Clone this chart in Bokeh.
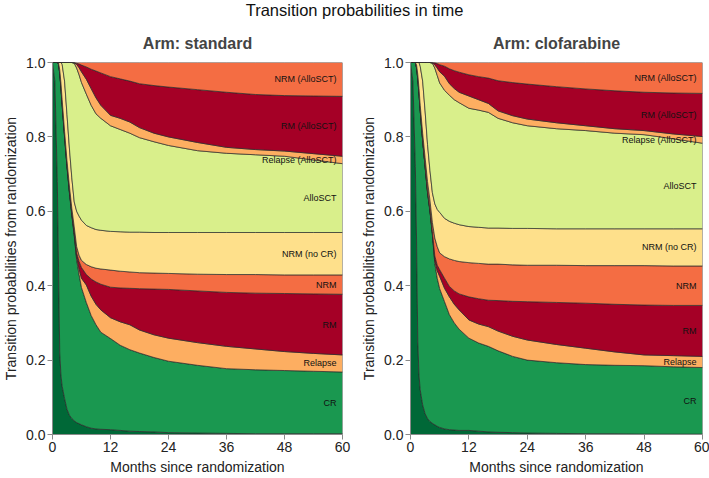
from bokeh.core.properties import value
from bokeh.embed import file_html
from bokeh.layouts import column, row
from bokeh.models import ColumnDataSource, Div, FixedTicker, PrintfTickFormatter, Range1d
from bokeh.plotting import figure
from bokeh.resources import INLINE

# time grid (months since randomization)
months = [0, 0.5, 1, 1.25, 1.5, 1.75, 2, 2.5, 3, 3.5, 4, 4.5, 5, 5.5, 6, 7, 8, 9, 10,
          12, 14, 16, 18, 21, 24, 30, 36, 42, 48, 54, 60]

states = ["Initial", "CR", "Relapse", "RM", "NRM", "NRM (no CR)", "AlloSCT",
          "Relapse (AlloSCT)", "RM (AlloSCT)", "NRM (AlloSCT)"]
colors = ["#006837", "#1A9850", "#FDAE61", "#A50026", "#F46D43", "#FEE08B", "#D9EF8B",
          "#FDAE61", "#A50026", "#F46D43"]

# stacked (cumulative) probability at the top of each state, arm: standard
std_initial = [1.0, 0.95, 0.68, 0.45, 0.22, 0.16, 0.13, 0.097, 0.068, 0.052, 0.043, 0.037, 0.032, 0.029, 0.026,
               0.021, 0.017, 0.015, 0.014, 0.013, 0.011, 0.009, 0.008, 0.007, 0.005, 0.004, 0.003, 0.002, 0.002, 0.002, 0.002]
std_cr = [1.0, 1.0, 1.0, 0.995, 0.97, 0.93, 0.885, 0.8, 0.72, 0.65, 0.59, 0.535, 0.47, 0.43, 0.395,
          0.355, 0.32, 0.295, 0.275, 0.258, 0.24, 0.228, 0.219, 0.207, 0.197, 0.186, 0.177, 0.174, 0.172, 0.17, 0.168]
std_relapse = [1.0, 1.0, 1.0, 0.996, 0.972, 0.933, 0.888, 0.803, 0.723, 0.654, 0.594, 0.54, 0.478, 0.445, 0.42,
               0.402, 0.372, 0.35, 0.335, 0.314, 0.303, 0.295, 0.281, 0.268, 0.259, 0.247, 0.237, 0.23, 0.223, 0.218, 0.214]
std_rm = [1.0, 1.0, 1.0, 0.997, 0.974, 0.936, 0.891, 0.806, 0.726, 0.657, 0.597, 0.545, 0.488, 0.465, 0.449,
          0.43, 0.418, 0.41, 0.404, 0.396, 0.394, 0.393, 0.392, 0.391, 0.39, 0.386, 0.382, 0.38, 0.379, 0.378, 0.377]
std_nrm = [1.0, 1.0, 1.0, 0.999, 0.98, 0.945, 0.9, 0.815, 0.736, 0.668, 0.608, 0.558, 0.505, 0.482, 0.468,
           0.457, 0.451, 0.447, 0.445, 0.442, 0.439, 0.437, 0.435, 0.434, 0.433, 0.431, 0.43, 0.43, 0.429, 0.429, 0.429]
std_nrm_nocr = [1.0, 1.0, 1.0, 1.0, 1.0, 1.0, 0.995, 0.95, 0.86, 0.77, 0.69, 0.625, 0.6, 0.587, 0.576,
                0.562, 0.556, 0.551, 0.549, 0.546, 0.545, 0.544, 0.544, 0.543, 0.543, 0.543, 0.543, 0.543, 0.543, 0.543, 0.543]
std_allo = [1.0, 1.0, 1.0, 1.0, 1.0, 1.0, 1.0, 1.0, 1.0, 1.0, 1.0, 0.998, 0.985, 0.967, 0.946,
            0.915, 0.885, 0.862, 0.85, 0.83, 0.82, 0.81, 0.798, 0.787, 0.777, 0.763, 0.756, 0.752, 0.748, 0.738, 0.728]
std_relapse_allo = [1.0, 1.0, 1.0, 1.0, 1.0, 1.0, 1.0, 1.0, 1.0, 1.0, 1.0, 0.999, 0.995, 0.986, 0.975,
                    0.955, 0.93, 0.905, 0.885, 0.858, 0.85, 0.84, 0.825, 0.81, 0.8, 0.785, 0.772, 0.766, 0.762, 0.755, 0.748]
std_rm_allo = [1.0, 1.0, 1.0, 1.0, 1.0, 1.0, 1.0, 1.0, 1.0, 1.0, 1.0, 1.0, 0.998, 0.996, 0.993,
               0.988, 0.982, 0.977, 0.972, 0.962, 0.956, 0.95, 0.943, 0.938, 0.934, 0.927, 0.92, 0.914, 0.911, 0.91, 0.909]

# arm: clofarabine
clo_initial = [1.0, 0.95, 0.72, 0.52, 0.25, 0.16, 0.12, 0.08, 0.056, 0.043, 0.035, 0.03, 0.026, 0.022, 0.019,
               0.015, 0.013, 0.012, 0.011, 0.011, 0.009, 0.007, 0.006, 0.005, 0.004, 0.003, 0.002, 0.002, 0.001, 0.001, 0.001]
clo_cr = [1.0, 1.0, 1.0, 0.985, 0.955, 0.915, 0.87, 0.79, 0.72, 0.65, 0.6, 0.538, 0.46, 0.42, 0.392,
          0.357, 0.322, 0.3, 0.283, 0.259, 0.246, 0.237, 0.225, 0.21, 0.2, 0.193, 0.188, 0.186, 0.185, 0.182, 0.18]
clo_relapse = [1.0, 1.0, 1.0, 0.986, 0.957, 0.917, 0.872, 0.792, 0.722, 0.653, 0.603, 0.542, 0.468, 0.44, 0.425,
               0.393, 0.37, 0.35, 0.335, 0.308, 0.297, 0.29, 0.278, 0.264, 0.254, 0.242, 0.232, 0.222, 0.214, 0.212, 0.21]
clo_rm = [1.0, 1.0, 1.0, 0.987, 0.958, 0.918, 0.873, 0.793, 0.723, 0.655, 0.605, 0.545, 0.48, 0.455, 0.443,
          0.42, 0.398, 0.386, 0.378, 0.37, 0.365, 0.361, 0.36, 0.358, 0.357, 0.355, 0.353, 0.35, 0.348, 0.347, 0.347]
clo_nrm = [1.0, 1.0, 1.0, 0.993, 0.968, 0.93, 0.885, 0.81, 0.745, 0.68, 0.63, 0.57, 0.528, 0.505, 0.488,
           0.478, 0.472, 0.468, 0.465, 0.462, 0.46, 0.458, 0.458, 0.456, 0.455, 0.455, 0.454, 0.454, 0.454, 0.453, 0.453]
clo_nrm_nocr = [1.0, 1.0, 1.0, 1.0, 1.0, 1.0, 0.99, 0.95, 0.87, 0.78, 0.71, 0.65, 0.62, 0.605, 0.597,
                0.581, 0.573, 0.568, 0.564, 0.559, 0.557, 0.555, 0.555, 0.554, 0.554, 0.553, 0.553, 0.553, 0.553, 0.553, 0.553]
clo_allo = [1.0, 1.0, 1.0, 1.0, 1.0, 1.0, 1.0, 1.0, 1.0, 1.0, 1.0, 0.998, 0.985, 0.965, 0.945,
            0.925, 0.912, 0.9, 0.892, 0.877, 0.872, 0.866, 0.85, 0.838, 0.83, 0.822, 0.817, 0.81, 0.806, 0.795, 0.783]
clo_relapse_allo = [1.0, 1.0, 1.0, 1.0, 1.0, 1.0, 1.0, 1.0, 1.0, 1.0, 1.0, 0.999, 0.994, 0.985, 0.975,
                    0.963, 0.943, 0.93, 0.92, 0.91, 0.9, 0.89, 0.87, 0.857, 0.848, 0.838, 0.83, 0.822, 0.817, 0.808, 0.801]
clo_rm_allo = [1.0, 1.0, 1.0, 1.0, 1.0, 1.0, 1.0, 1.0, 1.0, 1.0, 1.0, 1.0, 0.999, 0.997, 0.994,
               0.99, 0.983, 0.978, 0.974, 0.967, 0.962, 0.958, 0.951, 0.946, 0.942, 0.935, 0.929, 0.924, 0.92, 0.918, 0.917]

FONT = "Liberation Sans"


def stacked_panel(arm, tops, width, border_left, border_right):
    p = figure(width=width, height=457, output_backend="svg", toolbar_location=None,
               x_range=Range1d(0, 60), y_range=Range1d(0, 1),
               min_border_left=border_left, min_border_right=border_right,
               min_border_top=42, min_border_bottom=42,
               x_axis_label="Months since randomization",
               y_axis_label="Transition probabilities from randomization")

    # one polygon per state, between the previous stacked edge and its own
    tops = tops + [[1.0 for _ in months]]
    xs, ys, label_y, label_txt = [], [], [], []
    lower = [0.0 for _ in months]
    for name, top in zip(states, tops):
        xs.append(months + months[::-1])
        ys.append(list(top) + lower[::-1])
        if top[-1] - lower[-1] > 0.01:
            label_y.append((top[-1] + lower[-1]) / 2)
            label_txt.append(name)
        lower = list(top)
    src = ColumnDataSource(dict(xs=xs, ys=ys, color=colors))
    p.patches("xs", "ys", source=src, fill_color="color", line_color="#2b2b2b", line_width=0.7)

    lab = ColumnDataSource(dict(x=[60] * len(label_y), y=label_y, text=label_txt))
    p.text("x", "y", text="text", source=lab, x_offset=-6, text_align="right",
           text_baseline="middle", text_font=value(FONT), text_font_size="9px", text_color="#111111")

    p.title.text = "Arm: " + arm
    p.title.align = "center"
    p.title.text_font = FONT
    p.title.text_font_size = "16px"
    p.title.text_font_style = "bold"
    p.title.standoff = 21

    p.xaxis.ticker = FixedTicker(ticks=[0, 12, 24, 36, 48, 60])
    p.yaxis.ticker = FixedTicker(ticks=[0, 0.2, 0.4, 0.6, 0.8, 1.0])
    p.yaxis.formatter = PrintfTickFormatter(format="%.1f")
    p.axis.minor_tick_line_color = None
    p.axis.major_tick_in = 0
    p.axis.major_tick_out = 5
    p.axis.axis_line_color = "#8a8a8a"
    p.axis.major_tick_line_color = "#8a8a8a"
    p.axis.major_label_standoff = 2
    p.axis.axis_label_standoff = 4
    p.axis.major_label_text_font = FONT
    p.axis.major_label_text_font_size = "14px"
    p.axis.major_label_text_color = "#222222"
    p.axis.axis_label_text_font = FONT
    p.axis.axis_label_text_font_size = "14px"
    p.axis.axis_label_text_font_style = "normal"
    p.axis.axis_label_text_color = "#222222"
    p.grid.grid_line_color = None
    p.outline_line_color = None
    return p


p1 = stacked_panel("standard",
                   [std_initial, std_cr, std_relapse, std_rm, std_nrm, std_nrm_nocr,
                    std_allo, std_relapse_allo, std_rm_allo], 355, 51, 13)
p2 = stacked_panel("clofarabine",
                   [clo_initial, clo_cr, clo_relapse, clo_rm, clo_nrm, clo_nrm_nocr,
                    clo_allo, clo_relapse_allo, clo_rm_allo], 354, 55, 7)

title = Div(text="<div style='width:709px;text-align:center;font-family:\"Liberation Sans\";"
                 "font-size:16.5px;line-height:20px;color:#111;'>Transition probabilities in time</div>",
            width=709, height=20, margin=0)

p = column(title, row(p1, p2))
open("out.html", "w").write(file_html(p, INLINE))
